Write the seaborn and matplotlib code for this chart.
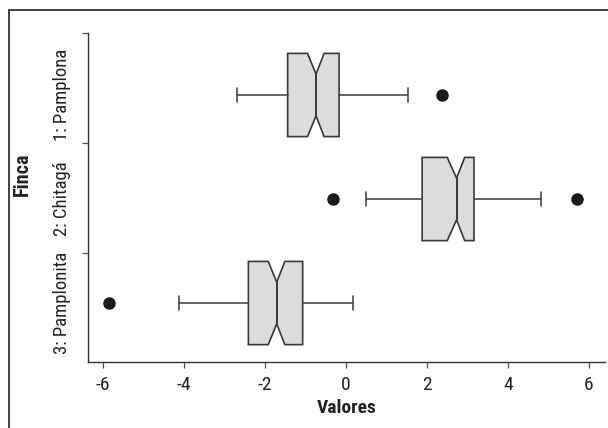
import numpy as np
import matplotlib
matplotlib.use("Agg")
import matplotlib.pyplot as plt
from matplotlib.lines import Line2D
import seaborn as sns

sns.set_theme(style="ticks")
plt.rcParams['font.family'] = ['Roboto Condensed', 'DejaVu Sans']
plt.rcParams['font.stretch'] = 'condensed'
plt.rcParams['axes.unicode_minus'] = False

# =========================
# DATA
# =========================
fincas = ["1: Pamplona", "2: Chitagá", "3: Pamplonita"]
whisker_low = [-2.70, 0.49, -4.12]
q1 = [-1.44, 1.88, -2.41]
median = [-0.74, 2.73, -1.71]
q3 = [-0.17, 3.16, -1.07]
whisker_high = [1.54, 4.81, 0.18]
notch_low = [-0.95, 2.50, -1.92]
notch_high = [-0.54, 2.93, -1.51]
outliers = [[2.36], [-0.33, 5.70], [-5.85]]

# stats table for bxp
stats = []
for i, name in enumerate(fincas):
    stats.append(dict(label=name, whislo=whisker_low[i], q1=q1[i], med=median[i],
                      q3=q3[i], whishi=whisker_high[i], cilo=notch_low[i],
                      cihi=notch_high[i], fliers=np.array(outliers[i])))

# =========================
# PLOT
# =========================
fig = plt.figure(figsize=(6.08, 4.28), dpi=100)
ax = fig.add_axes([88 / 608, 66 / 428, 517 / 608, 329 / 428])

edge = "#383838"
ax.bxp(stats, positions=range(len(fincas)), widths=0.8, vert=False,
       shownotches=True, patch_artist=True, manage_ticks=False,
       capwidths=0.14,
       boxprops=dict(facecolor="#dcdcde", edgecolor=edge, linewidth=1.2),
       medianprops=dict(color=edge, linewidth=1.4),
       whiskerprops=dict(color="#4a4a4a", linewidth=1.2),
       capprops=dict(color="#4a4a4a", linewidth=1.2),
       flierprops=dict(marker="o", markerfacecolor="#1a1a1a",
                       markeredgecolor="#1a1a1a", markersize=8))

ax.set_xlim(-6.37, 6.395)
ax.set_ylim(2.567, -0.596)

ax.set_xticks(np.arange(-6, 7, 2))
ax.tick_params(axis='x', length=4, width=0.9, color="#555555", pad=6,
               labelsize=14, labelcolor="#222222")

# group boundaries as major ticks, names as minor ticks at the boxes
ax.set_yticks([-0.596, 0.462, 1.519], [])
ax.set_yticks(range(len(fincas)), fincas, minor=True)
ax.tick_params(axis='y', which='major', length=4, width=0.9, color="#555555")
ax.tick_params(axis='y', which='minor', length=0, pad=12,
               labelsize=13.5, labelcolor="#222222")
plt.setp(ax.get_yticklabels(minor=True), rotation=90, va='center', ha='right')

ax.set_xlabel("Valores", fontsize=14, fontweight="bold", color="#222222", labelpad=4)
ax.set_ylabel("Finca", fontsize=14.5, fontweight="bold", color="#222222")
ax.yaxis.set_label_coords(-0.108, 0.57)

sns.despine(ax=ax)
for s in ["left", "bottom"]:
    ax.spines[s].set_color("#333333")
    ax.spines[s].set_linewidth(1.0)

# outer frame (only top and left edges are visible in the crop)
fig.add_artist(Line2D([9 / 608, 1.0], [1 - 10 / 428, 1 - 10 / 428],
                      transform=fig.transFigure, color="#222222", linewidth=1.2))
fig.add_artist(Line2D([9 / 608, 9 / 608], [0.0, 1 - 10 / 428],
                      transform=fig.transFigure, color="#222222", linewidth=1.2))

fig.savefig("out.png", dpi=100, facecolor="white")
